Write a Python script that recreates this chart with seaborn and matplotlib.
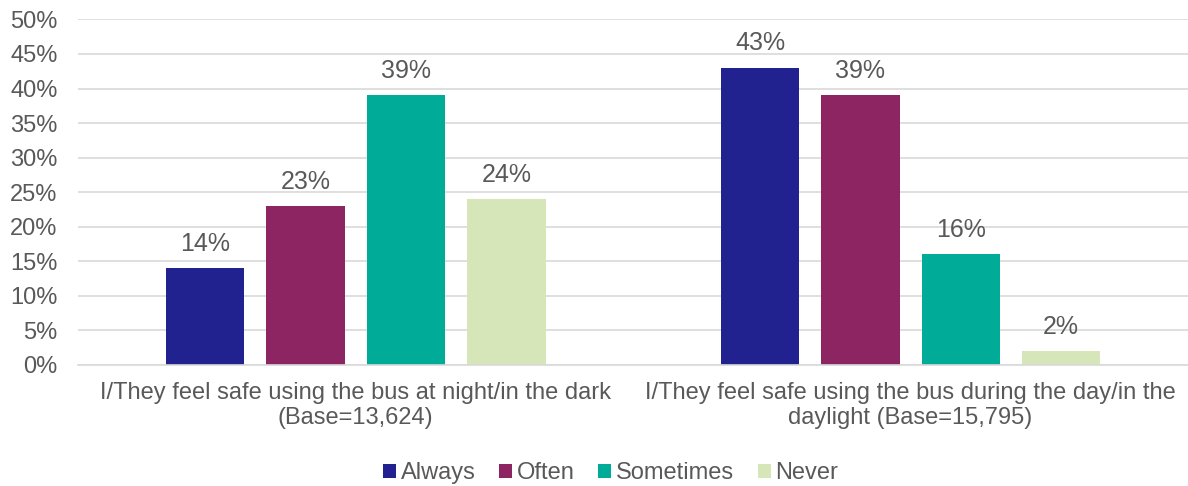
import matplotlib
matplotlib.use("Agg")
import matplotlib.pyplot as plt
import seaborn as sns
import pandas as pd
from matplotlib.ticker import PercentFormatter
from matplotlib.patches import Patch

categories = [
    "I/They feel safe using the bus at night/in the dark\n(Base=13,624)",
    "I/They feel safe using the bus during the day/in the\ndaylight (Base=15,795)",
]
frequencies = ["Always", "Often", "Sometimes", "Never"]
night_values = [14, 23, 39, 24]
day_values = [43, 39, 16, 2]
palette = ["#222190", "#8E2563", "#00AB97", "#D7E6B9"]

rows = []
for cat, vals in zip(categories, [night_values, day_values]):
    for freq, v in zip(frequencies, vals):
        rows.append({"category": cat, "frequency": freq, "value": v})
df = pd.DataFrame(rows)

sns.set_theme(style="white")
plt.rcParams["font.family"] = ["Liberation Sans", "DejaVu Sans"]
text_color = "#595959"
fs = 17

fig, ax = plt.subplots(figsize=(11.88, 4.86), dpi=100)
fig.subplots_adjust(left=0.066, right=1.0, top=0.96, bottom=0.249)

sns.barplot(data=df, x="category", y="value", hue="frequency",
            hue_order=frequencies, palette=palette, width=0.724, gap=0.22,
            saturation=1, ax=ax, legend=False, errorbar=None, linewidth=0)

for container in ax.containers:
    ax.bar_label(container, labels=[f"{int(v)}%" for v in container.datavalues],
                 padding=9, fontsize=18, color=text_color)

ax.set_ylim(0, 50)
ax.set_xlim(-0.5, 1.5)
ax.set_yticks(range(0, 51, 5))
ax.yaxis.set_major_formatter(PercentFormatter(decimals=0))
ax.yaxis.grid(True, color="#D9D9D9", linewidth=1.2)
ax.set_axisbelow(True)
for s in ["top", "right", "left"]:
    ax.spines[s].set_visible(False)
ax.spines["bottom"].set_color("#D9D9D9")
ax.spines["bottom"].set_linewidth(1.2)
ax.tick_params(axis="both", labelsize=fs, colors=text_color, length=0)
ax.tick_params(axis="y", pad=15)
ax.tick_params(axis="x", pad=12)
for lbl in ax.get_xticklabels():
    lbl.set_linespacing(1.2)
ax.set_xlabel("")
ax.set_ylabel("")

handles = [Patch(facecolor=c, edgecolor="none") for c in palette]
fig.legend(handles, frequencies, loc="lower center", ncol=4, frameon=False,
           fontsize=fs, labelcolor=text_color, bbox_to_anchor=(0.514, -0.04),
           handlelength=0.55, handleheight=0.55, handletextpad=0.2,
           columnspacing=1.0)

fig.savefig("out.png", dpi=100)
